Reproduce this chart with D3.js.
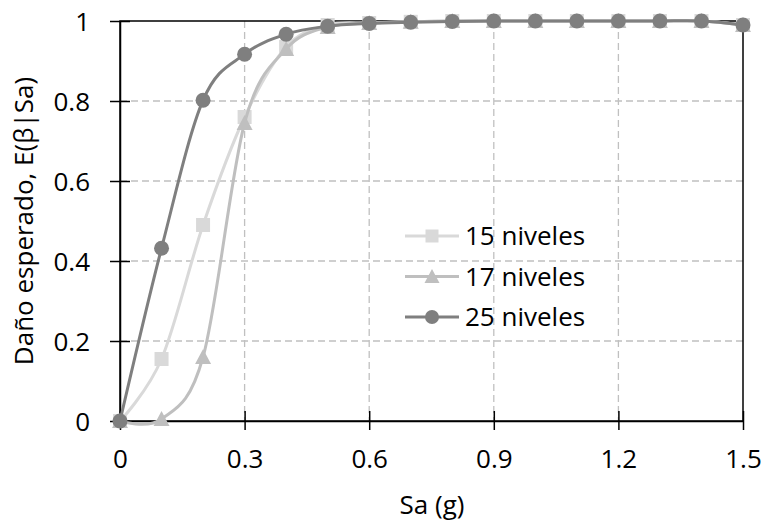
<!DOCTYPE html>
<html><head><meta charset="utf-8">
<script src="https://cdn.jsdelivr.net/npm/d3@7"></script>
<style>body{margin:0;background:#fff}svg text{font-family:"Open Sans","Liberation Sans",sans-serif;fill:#000}</style>
</head><body><svg id="c" width="765" height="527"></svg>
<script>
const sa = [0,0.1,0.2,0.3,0.4,0.5,0.6,0.7,0.8,0.9,1.0,1.1,1.2,1.3,1.4,1.5];
const n15 = [0,0.155,0.49,0.76,0.935,0.99,0.995,0.998,1,1,1,1,1,1,1,0.99];
const n17 = [0,0.005,0.16,0.745,0.93,0.985,0.995,0.998,1,1,1,1,1,1,1,0.99];
const n25 = [0,0.432,0.802,0.917,0.967,0.987,0.994,0.997,0.999,1,1,1,1,1,1,0.99];
const xTicks = [0,0.3,0.6,0.9,1.2,1.5];
const yTicks = [0,0.2,0.4,0.6,0.8,1];
const seriesNames = ["15 niveles","17 niveles","25 niveles"];

const svg = d3.select("#c");
const L=120,R=743,T=21,B=421;
const x = d3.scaleLinear().domain([0,1.5]).range([L,R]);
const y = d3.scaleLinear().domain([0,1]).range([B,T]);
const FS = 26;

// grid
svg.append("g").selectAll("line").data(yTicks.slice(1,-1)).join("line")
  .attr("x1",L).attr("x2",R).attr("y1",d=>y(d)).attr("y2",d=>y(d))
  .attr("stroke","#c0c0c0").attr("stroke-width",1.3).attr("stroke-dasharray","7,4");
svg.append("g").selectAll("line").data(xTicks.slice(1,-1)).join("line")
  .attr("y1",T).attr("y2",B).attr("x1",d=>x(d)).attr("x2",d=>x(d))
  .attr("stroke","#c0c0c0").attr("stroke-width",1.3).attr("stroke-dasharray","7,4");

// frame
svg.append("rect").attr("x",L).attr("y",T).attr("width",R-L).attr("height",B-T)
  .attr("fill","none").attr("stroke","#000").attr("stroke-width",1.5);

// axes
const xa = svg.append("g").attr("transform",`translate(0,${B})`)
  .call(d3.axisBottom(x).tickValues(xTicks).tickFormat(d=>String(d)).tickSizeInner(9).tickSizeOuter(0));
xa.select(".domain").attr("stroke","#000").attr("stroke-width",1.5);
xa.selectAll(".tick line").attr("stroke","#000").attr("stroke-width",1.5).attr("y1",-10);
xa.selectAll(".tick text").attr("font-size",FS).attr("y",47).attr("dy",0).attr("fill","#000");

const ya = svg.append("g").attr("transform",`translate(${L},0)`)
  .call(d3.axisLeft(y).tickValues(yTicks).tickFormat(d=>String(d)).tickSizeInner(10).tickSizeOuter(0));
ya.select(".domain").attr("stroke","#000").attr("stroke-width",1.5);
ya.selectAll(".tick line").attr("stroke","#000").attr("stroke-width",1.5).attr("x2",10).attr("x1",-10);
ya.selectAll(".tick text").attr("font-size",FS).attr("x",-30).attr("dy","0.36em").attr("fill","#000");

svg.append("text").attr("x",432).attr("y",514).attr("text-anchor","middle").attr("font-size",FS).text("Sa (g)");
svg.append("text").attr("transform",`translate(33,${(T+B)/2}) rotate(-90)`).attr("text-anchor","middle")
  .attr("font-size",FS).text("Daño esperado, E(β|Sa)");

const line = d3.line().x((d,i)=>x(sa[i])).y(d=>y(d)).curve(d3.curveCardinal.tension(0));
const series = [
  {name:seriesNames[0], vals:n15, color:"#d9d9d9", marker:"square"},
  {name:seriesNames[1], vals:n17, color:"#bfbfbf", marker:"triangle"},
  {name:seriesNames[2], vals:n25, color:"#7f7f7f", marker:"circle"}
];
function marker(g,type,color,cx,cy,s){
  if(type==="square") g.append("rect").attr("x",cx-s).attr("y",cy-s).attr("width",2*s).attr("height",2*s).attr("fill",color);
  else if(type==="triangle") g.append("path").attr("d",`M${cx},${cy-s-1}L${cx+s+1},${cy+s}L${cx-s-1},${cy+s}Z`).attr("fill",color);
  else g.append("circle").attr("cx",cx).attr("cy",cy).attr("r",s+0.5).attr("fill",color);
}
series.forEach(s=>{
  svg.append("path").attr("d",line(s.vals)).attr("fill","none").attr("stroke",s.color).attr("stroke-width",3);
  const g = svg.append("g");
  s.vals.forEach((v,i)=>marker(g,s.marker,s.color,x(sa[i]),y(v),7));
});

// legend
series.forEach((s,i)=>{
  const ly = 236 + i*40.5;
  svg.append("line").attr("x1",405).attr("x2",459).attr("y1",ly).attr("y2",ly).attr("stroke",s.color).attr("stroke-width",3);
  const g = svg.append("g");
  marker(g,s.marker,s.color,432,ly,6.5);
  svg.append("text").attr("x",465).attr("y",ly).attr("dy","0.36em").attr("font-size",FS).text(s.name);
});
</script></body></html>
